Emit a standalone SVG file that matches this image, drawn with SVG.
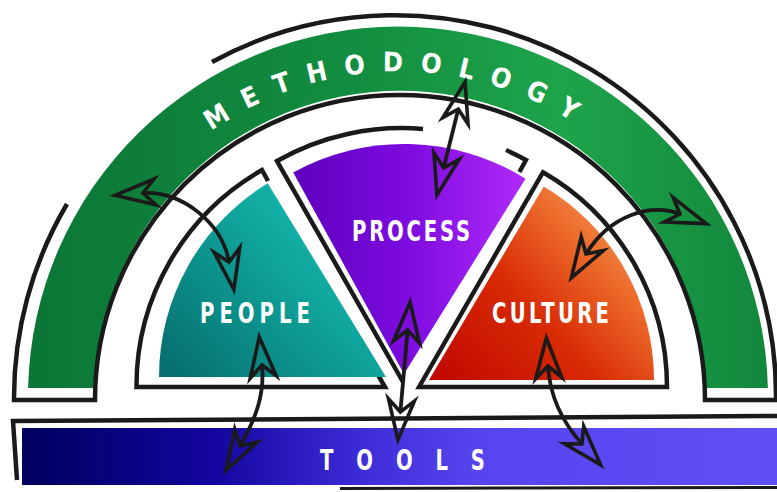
<svg xmlns="http://www.w3.org/2000/svg" width="777" height="492" viewBox="0 0 777 492">
<defs>
<style>
.ol{fill:none;stroke:#1a1a1a;stroke-width:4.5;stroke-linejoin:miter}
.lbl{font-family:"DejaVu Sans Condensed","Liberation Sans Narrow","Roboto Condensed","Liberation Sans",sans-serif;font-weight:bold;fill:#ffffff;font-size:27px}
.nar{font-size:28px}
.arr{fill:none;stroke:#1a1a1a;stroke-width:3.8;marker-start:url(#head);marker-end:url(#head)}
</style>
<linearGradient id="gGreen" x1="0" y1="0" x2="1" y2="0">
<stop offset="0" stop-color="#0b7636"/><stop offset="0.45" stop-color="#138e40"/><stop offset="0.72" stop-color="#1ea44b"/><stop offset="1" stop-color="#12873c"/>
</linearGradient>
<linearGradient id="gTeal" x1="0" y1="0.9" x2="1" y2="0.1">
<stop offset="0" stop-color="#07706f"/><stop offset="0.55" stop-color="#0fa39b"/><stop offset="0.8" stop-color="#14b6ab"/><stop offset="1" stop-color="#10aaa0"/>
</linearGradient>
<linearGradient id="gPurple" x1="0" y1="0" x2="1" y2="0">
<stop offset="0" stop-color="#5e00bd"/><stop offset="0.5" stop-color="#7e0ce0"/><stop offset="1" stop-color="#b02af8"/>
</linearGradient>
<linearGradient id="gOrange" x1="0" y1="1" x2="1" y2="0.2">
<stop offset="0" stop-color="#c00600"/><stop offset="0.45" stop-color="#d82a04"/><stop offset="0.75" stop-color="#ec6a2a"/><stop offset="1" stop-color="#f6a060"/>
</linearGradient>
<linearGradient id="gTools" gradientUnits="userSpaceOnUse" x1="22" y1="0" x2="777" y2="0">
<stop offset="0" stop-color="#00005e"/><stop offset="0.25" stop-color="#12069e"/><stop offset="0.45" stop-color="#3e2cd8"/><stop offset="0.6" stop-color="#5644ee"/><stop offset="1" stop-color="#5f4ff6"/>
</linearGradient>
<marker id="head" markerUnits="userSpaceOnUse" markerWidth="50" markerHeight="40" refX="12" refY="15" orient="auto-start-reverse" overflow="visible">
<path d="M40,15 L0,2 L12,15 L0,28 Z" fill="none" stroke="#1a1a1a" stroke-width="3.6" stroke-linejoin="miter"/>
</marker>
<path id="methArc" d="M74.5,396 A324.5,324.5 0 0 1 723.5,396"/>
</defs>

<g id="methodology">
<path d="M28.1,388 A370,370 0 0 1 767.9,388 L704.9,388 A305,305 0 0 0 95.1,388 Z" fill="url(#gGreen)"/>
<path class="ol" d="M67,204 A381,381 0 0 0 14,400 L95,400 A305,305 0 1 1 705,400 L776,400 A381,381 0 0 0 212,62"/>
<text class="lbl" font-size="26"><textPath href="#methArc" startOffset="50%" text-anchor="middle" textLength="400" lengthAdjust="spacing" letter-spacing="18">METHODOLOGY</textPath></text>
</g>

<g id="people">
<path class="ol" d="M268,181 L262,170 A248.5,248.5 0 0 0 136.5,387 L385,387 L378,375"/>
<path d="M386,377 L267.7,183.3 A227,227 0 0 0 159,377 Z" fill="url(#gTeal)"/>
<text class="lbl nar" transform="scale(0.78,1)" x="256.4" y="323" textLength="141" lengthAdjust="spacing">PEOPLE</text>
</g>

<g id="process">
<path class="ol" d="M403,382 L277,161 A254,254 0 0 1 423,129 M506,150 A254,254 0 0 1 526,160 L519.4,172"/>
<path d="M404,374 L293.2,172.4 A230,230 0 0 1 525.5,178.7 Z" fill="url(#gPurple)"/>
<text class="lbl nar" transform="scale(0.78,1)" x="451.3" y="241" textLength="151.3" lengthAdjust="spacing">PROCESS</text>
</g>

<g id="culture">
<path class="ol" d="M419,387 L543,172.2 A248,248 0 0 1 667,387 Z"/>
<path d="M429,380 L543.8,186.5 A225,225 0 0 1 654,380 Z" fill="url(#gOrange)"/>
<text class="lbl nar" transform="scale(0.78,1)" x="630.8" y="323" textLength="150" lengthAdjust="spacing">CULTURE</text>
</g>

<g id="tools">
<path class="ol" d="M777,416 L13,421 L17,480"/>
<path d="M340,488.5 L777,487.5" fill="none" stroke="#1a1a1a" stroke-width="3"/>
<rect x="22" y="428" width="755" height="57" fill="url(#gTools)"/>
<text class="lbl nar" transform="scale(0.78,1)" x="410.3" y="470" textLength="211.5" lengthAdjust="spacing">TOOLS</text>
</g>

<g id="connectors">
<path class="arr" d="M143,193 C180,190 222,222 229,262"/>
<path class="arr" d="M458.3,109.2 L443.7,167.8"/>
<path class="arr" d="M680,214 C650,203 610,215 586,254"/>
<path class="arr" d="M262,365 C265,395 255,420 240,446"/>
<path class="arr" d="M407.6,330 L400.4,412"/>
<path class="arr" d="M548,366 C550,400 565,425 582,444"/>
</g>
</svg>
